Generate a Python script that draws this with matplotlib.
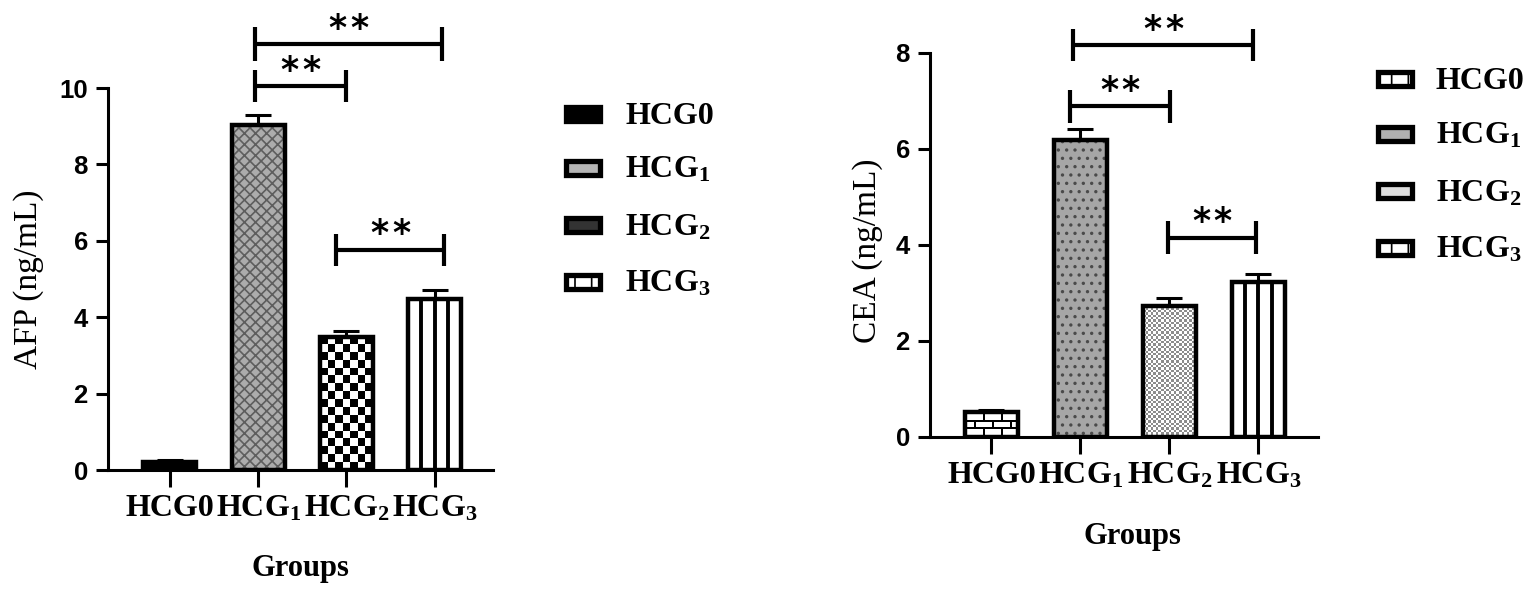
import numpy as np
import matplotlib
matplotlib.use("Agg")
import matplotlib.pyplot as plt
from matplotlib.patches import Rectangle
from matplotlib.colors import ListedColormap

# ---------------- data ----------------
groups = ["HCG0", "HCG1", "HCG2", "HCG3"]
group_labels = ["HCG0", "HCG$_1$", "HCG$_2$", "HCG$_3$"]

afp_mean = [0.20, 9.02, 3.49, 4.48]
afp_err = [0.06, 0.27, 0.14, 0.24]
afp_yticks = [0, 2, 4, 6, 8, 10]

cea_mean = [0.52, 6.18, 2.73, 3.22]
cea_err = [0.05, 0.23, 0.17, 0.17]
cea_yticks = [0, 2, 4, 6, 8]

# significance comparisons: (group a, group b, label)
afp_sig = [("HCG1", "HCG3", "**"), ("HCG1", "HCG2", "**"), ("HCG2", "HCG3", "**")]
cea_sig = [("HCG1", "HCG3", "**"), ("HCG1", "HCG2", "**"), ("HCG2", "HCG3", "**")]

# ---------------- style / layout ----------------
W_PX, H_PX = 1536, 597
plt.rcParams["mathtext.fontset"] = "custom"
plt.rcParams["mathtext.rm"] = "Liberation Serif"
plt.rcParams["mathtext.default"] = "regular"
plt.rcParams["hatch.linewidth"] = 1.2

SERIF = "Liberation Serif"
SANS = "Liberation Sans"
BAR_W = 0.60

fig = plt.figure(figsize=(W_PX / 100, H_PX / 100), dpi=100)


def fx(px):
    return px / W_PX


def fy(py):
    return 1 - py / H_PX


def pattern_img(kind, v):
    if kind == "checker":
        ny = max(1, int(round(v / 0.2)))
        nx = 7
        return (np.indices((ny, nx)).sum(axis=0) % 2).astype(float), ListedColormap(["black", "white"])
    if kind == "finechecker":
        ny = max(1, int(round(v / 0.05)))
        nx = 21
        return (np.indices((ny, nx)).sum(axis=0) % 2).astype(float), ListedColormap(["#8c8c8c", "white"])
    if kind == "bricks":
        ny, nx = 26, 54
        img = np.ones((ny, nx))
        rowh, brw = 8, 18
        for r in range(ny):
            if r % rowh in (0, 1):
                img[r, :] = 0
            else:
                row = r // rowh
                off = 0 if row % 2 == 0 else brw // 2
                for c in range(nx):
                    if (c + off) % brw in (0, 1):
                        img[r, c] = 0
        return img, ListedColormap(["black", "white"])
    return None, None


def draw_panel(ax, means, errs, styles, yticks, ylabel, sig, brackets):
    x = np.arange(len(groups))
    for xi, v, st in zip(x, means, styles):
        kind = st["kind"]
        if kind == "hatch":
            ax.bar(xi, v, BAR_W, color=st["fc"], edgecolor=st["hc"], hatch=st["hatch"],
                   linewidth=0, zorder=2)
        elif kind == "solid":
            ax.bar(xi, v, BAR_W, color=st["fc"], linewidth=0, zorder=2)
        elif kind == "stripes":
            ax.bar(xi, v, BAR_W, color="white", linewidth=0, zorder=2)
            ax.vlines([xi - BAR_W / 4, xi, xi + BAR_W / 4], 0, v, color="black",
                      linewidth=2.8, zorder=3)
        else:
            img, cmap = pattern_img(kind, v)
            ax.imshow(img, extent=(xi - BAR_W / 2, xi + BAR_W / 2, 0, v), aspect="auto",
                      cmap=cmap, interpolation="nearest", origin="upper", zorder=2)
        ax.bar(xi, v, BAR_W, fill=False, edgecolor="black", linewidth=3.2, zorder=4)
    ax.errorbar(x, means, yerr=[np.zeros(len(errs)), errs], fmt="none", ecolor="black",
                elinewidth=2.2, capsize=9.5, capthick=2.2, zorder=1)

    # significance brackets
    for (a, b, lab), (yb, dl, dr, th) in zip(sig, brackets):
        xa = groups.index(a) + dl
        xb = groups.index(b) + dr
        ax.plot([xa, xb], [yb, yb], color="black", lw=3.0, clip_on=False, solid_capstyle="butt")
        ax.plot([xa, xa], [yb - th, yb + th], color="black", lw=3.0, clip_on=False, solid_capstyle="butt")
        ax.plot([xb, xb], [yb - th, yb + th], color="black", lw=3.0, clip_on=False, solid_capstyle="butt")
        xm = (xa + xb) / 2
        n = len(lab)
        for k, ch in enumerate(lab):
            dx = (k - (n - 1) / 2) * 15.5
            ax.annotate(ch, (xm, yb), xytext=(dx, 4.0), textcoords="offset points",
                        ha="center", va="baseline", fontsize=25, fontweight="bold",
                        family="DejaVu Sans", annotation_clip=False)

    ax.set_ylim(yticks[0], yticks[-1])
    ax.set_yticks(yticks)
    ax.set_xticks(x)
    ax.set_xticklabels(group_labels)
    for sp in ("top", "right"):
        ax.spines[sp].set_visible(False)
    for sp in ("left", "bottom"):
        ax.spines[sp].set_linewidth(2.2)
    ax.tick_params(axis="y", length=8.5, width=2.2, pad=6, labelsize=18.5)
    ax.tick_params(axis="x", length=12, width=2.2, pad=5, labelsize=23)
    for t in ax.get_yticklabels():
        t.set_fontfamily(SANS)
        t.set_fontweight("bold")
    for t in ax.get_xticklabels():
        t.set_fontfamily(SERIF)
        t.set_fontweight("bold")
    ax.set_ylabel(ylabel, fontsize=24, family=SERIF, va="center")
    ax.set_xlabel("Groups", fontsize=22, family=SERIF, fontweight="bold", va="center")


def draw_legend(x_box, x_text, ys, fills):
    for lab, y, f in zip(group_labels, ys, fills):
        w, h = 34, 14
        r = Rectangle((fx(x_box + 2.5), fy(y + h / 2)), w / W_PX, h / H_PX,
                      transform=fig.transFigure, facecolor=f["fc"], edgecolor="black",
                      hatch=f.get("hatch"), linewidth=3.8)
        fig.add_artist(r)
        fig.text(fx(x_text), fy(y + 10), lab, fontsize=23, family=SERIF, fontweight="bold",
                 ha="left", va="baseline")


# ---------------- left panel: AFP ----------------
axL = fig.add_axes([fx(108), fy(470), fx(493) - fx(108), fy(88) - fy(470)])
afp_styles = [
    {"kind": "solid", "fc": "black"},
    {"kind": "hatch", "fc": "#acacac", "hc": "#5e5e5e", "hatch": "xxx"},
    {"kind": "checker"},
    {"kind": "stripes"},
]
afp_brackets = [(11.15, -0.04, 0.08, 0.45), (10.05, -0.04, 0.0, 0.42), (5.77, -0.12, 0.11, 0.42)]
draw_panel(axL, afp_mean, afp_err, afp_styles, afp_yticks, "AFP (ng/mL)", afp_sig, afp_brackets)
axL.set_xlim(-0.70, 3.66)
axL.yaxis.set_label_coords(-0.205, 0.5)
axL.xaxis.set_label_coords(0.501, -0.257)

draw_legend(563, 625, [114, 168, 225, 282], [
    {"fc": "black"}, {"fc": "#b5b5b5"}, {"fc": "#333333"}, {"fc": "white", "hatch": "|"}])

# ---------------- right panel: CEA ----------------
axR = fig.add_axes([fx(930), fy(437), fx(1318) - fx(930), fy(53) - fy(437)])
cea_styles = [
    {"kind": "bricks"},
    {"kind": "hatch", "fc": "#a6a6a6", "hc": "#4a4a4a", "hatch": ".."},
    {"kind": "finechecker"},
    {"kind": "stripes"},
]
cea_brackets = [(8.16, -0.08, -0.06, 0.335), (6.89, -0.12, 0.01, 0.34), (4.15, -0.01, -0.03, 0.34)]
draw_panel(axR, cea_mean, cea_err, cea_styles, cea_yticks, "CEA (ng/mL)", cea_sig, cea_brackets)
axR.set_xlim(-0.69, 3.67)
axR.yaxis.set_label_coords(-0.16, 0.484)
axR.xaxis.set_label_coords(0.522, -0.258)

draw_legend(1375, 1436, [79, 134, 191, 248], [
    {"fc": "white", "hatch": "|"}, {"fc": "#b0b0b0"}, {"fc": "#dddddd"}, {"fc": "white", "hatch": "|"}])

fig.savefig("out.png", dpi=100)
